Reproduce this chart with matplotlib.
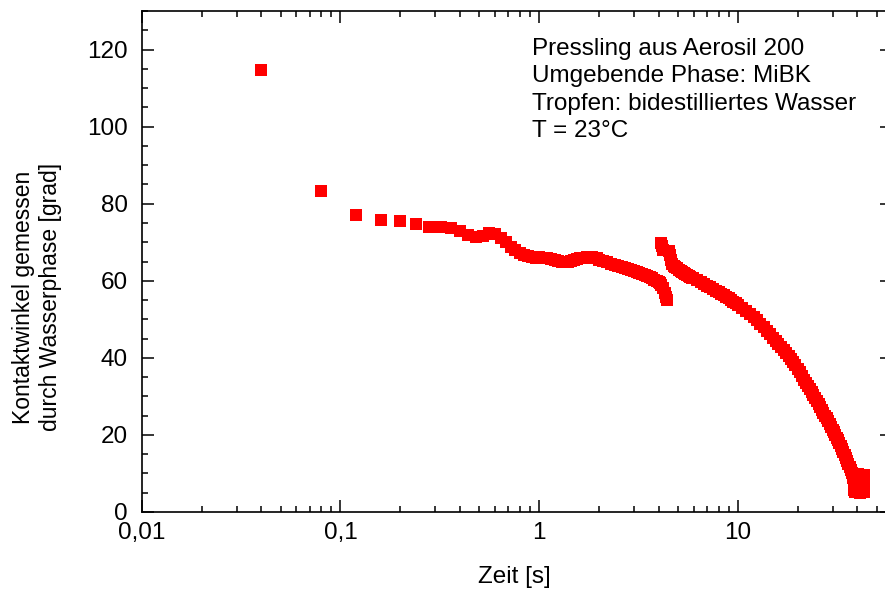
import matplotlib
matplotlib.use("Agg")
import matplotlib.pyplot as plt
from matplotlib.ticker import FixedLocator, MultipleLocator, LogLocator, NullFormatter, FuncFormatter

plt.rcParams['font.family'] = ['Liberation Sans', 'DejaVu Sans']

# --- data: contact angle vs time ---
t_early = [0.04, 0.08, 0.12, 0.16, 0.20, 0.24, 0.28, 0.32, 0.36, 0.40, 0.44, 0.48,
           0.52, 0.56, 0.60, 0.64, 0.68, 0.72, 0.76, 0.80, 0.84, 0.88, 0.92, 0.96]
y_early = [114.8, 83.2, 77.1, 75.8, 75.4, 74.7, 73.9, 73.9, 73.6, 72.9, 71.9, 71.3,
           71.6, 72.5, 72.2, 71.2, 70.0, 68.7, 67.9, 67.2, 66.7, 66.3, 66.1, 66.0]

t_mid = [1.00, 1.05, 1.10, 1.15, 1.20, 1.25, 1.30, 1.35, 1.40, 1.45, 1.50, 1.55, 1.60,
         1.65, 1.70, 1.75, 1.80, 1.85, 1.90, 1.95, 2.0, 2.1, 2.2, 2.3, 2.4, 2.5, 2.6,
         2.7, 2.8, 2.9, 3.0, 3.1, 3.2, 3.3, 3.4, 3.5, 3.6, 3.7, 3.8, 3.9, 4.0, 4.04,
         4.12, 4.20, 4.28, 4.36, 4.42]
y_mid = [66.1, 65.9, 65.8, 65.6, 65.3, 65.1, 64.9, 64.9, 65.0, 65.2, 65.5, 65.7, 65.8,
         65.9, 66.0, 66.1, 66.2, 66.1, 66.0, 65.8, 65.5, 65.1, 64.8, 64.4, 64.1, 63.8, 63.6,
         63.3, 63.1, 62.9, 62.6, 62.3, 62.0, 61.7, 61.4, 61.2, 60.9, 60.6, 60.3, 60.0, 59.6, 59.4,
         58.8, 58.0, 56.8, 55.8, 55.0]

t_late = [4.10, 4.14, 4.18, 4.50, 4.56, 4.62, 4.68, 4.76, 4.85, 4.95, 5.05, 5.15, 5.25,
          5.35, 5.45, 5.55, 5.65, 5.75, 5.85, 5.95, 6.25, 6.5, 6.75, 7.0, 7.25, 7.5, 7.75,
          8.0, 8.25, 8.5, 8.75, 9.0, 9.25, 9.5, 9.75, 10.0, 10.5, 11.0, 11.5, 12.0, 12.5,
          13.0, 13.5, 14.0, 14.5, 15.0, 15.5, 16.0, 16.5, 17.0, 17.5, 18.0, 18.5, 19.0,
          19.5, 20.0, 20.5, 21.0, 21.5, 22.0, 22.5, 23.0, 23.5, 24.0, 24.5, 25.0, 25.5,
          26.0, 26.5, 27.0, 27.5, 28.0, 28.5, 29.0, 29.5, 30.0, 30.5, 31.0, 31.5, 32.0,
          32.5, 33.0, 33.5, 34.0, 34.5, 35.0, 35.5, 36.0, 36.5, 37.0, 37.5, 38.0, 38.3,
          38.6, 39.0, 39.4, 39.8, 40.2, 40.6, 41.0, 41.4, 41.8, 42.2, 42.6, 43.0, 43.3, 43.3]
y_late = [69.9, 69.0, 68.0, 67.8, 66.6, 65.3, 64.4, 63.8, 63.6, 63.4, 62.8, 62.5, 62.2,
          62.0, 61.7, 61.4, 61.2, 61.0, 60.8, 60.6, 60.1, 59.6, 59.1, 58.7, 58.3, 57.9, 57.4,
          57.0, 56.6, 56.2, 55.8, 55.4, 55.0, 54.6, 54.2, 53.8, 53.0, 52.1, 51.4, 50.6, 49.7,
          48.8, 47.9, 47.0, 46.1, 45.2, 44.4, 43.6, 42.8, 42.0, 41.3, 40.6, 39.8, 39.0,
          38.1, 37.2, 36.2, 35.2, 34.3, 33.5, 32.7, 31.9, 31.1, 30.3, 29.5, 28.8, 28.0,
          27.3, 26.5, 25.8, 25.0, 24.3, 23.5, 22.8, 22.1, 21.4, 20.7, 20.0, 19.3, 18.6,
          17.9, 17.2, 16.4, 15.6, 14.8, 14.0, 13.2, 12.4, 11.7, 11.0, 10.2, 8.8, 7.2,
          5.8, 5.2, 7.0, 9.0, 9.8, 7.5, 5.5, 5.0, 6.5, 8.5, 9.6, 7.0, 5.2, 9.6]

x_ticks = [0.01, 0.1, 1, 10]
x_ticklabels = ["0,01", "0,1", "1", "10"]
y_ticks = [0, 20, 40, 60, 80, 100, 120]
info_lines = ["Pressling aus Aerosil 200", "Umgebende Phase: MiBK",
              "Tropfen: bidestilliertes Wasser", "T = 23°C"]

W, H = 885, 590
fig = plt.figure(figsize=(W / 100, H / 100), dpi=100)
ax = fig.add_axes([141.7 / W, 78 / H, (892.4 - 141.7) / W, (512 - 11) / H])

for tt, yy in ((t_early, y_early), (t_mid, y_mid), (t_late, y_late)):
    ax.plot(tt, yy, linestyle='none', marker='s', markersize=8.2,
            markeredgewidth=0, color='#ff0000')

ax.set_xscale('log')
ax.set_xlim(0.01, 60)
ax.set_ylim(0, 130)

ax.xaxis.set_major_locator(FixedLocator(x_ticks))
ax.xaxis.set_major_formatter(FuncFormatter(lambda v, p: x_ticklabels[x_ticks.index(v)] if v in x_ticks else ""))
ax.xaxis.set_minor_locator(LogLocator(base=10, subs=range(2, 10)))
ax.xaxis.set_minor_formatter(NullFormatter())
ax.yaxis.set_major_locator(FixedLocator(y_ticks))
ax.yaxis.set_minor_locator(MultipleLocator(5))

fs = 17.5
ax.tick_params(which='both', direction='in', top=True, right=True, width=1.1,
               labelsize=fs, colors='black')
ax.tick_params(which='major', length=8.6)
ax.tick_params(which='minor', length=4.1)
ax.tick_params(axis='x', which='major', pad=7.5)
ax.tick_params(axis='y', which='major', pad=10)
for s in ax.spines.values():
    s.set_linewidth(1.2)

fig.text(514 / W, 1 - 577 / H, "Zeit [s]", ha='center', va='center', fontsize=fs)
fig.text(37 / W, 1 - 297 / H, "Kontaktwinkel gemessen\ndurch Wasserphase [grad]",
         ha='center', va='center', rotation=90, fontsize=16.5, linespacing=1.27,
         multialignment='center')
fig.text(532 / W, 1 - 38 / H, "\n".join(info_lines), ha='left', va='top',
         fontsize=fs, linespacing=1.32)

fig.savefig("out.png", dpi=100)
